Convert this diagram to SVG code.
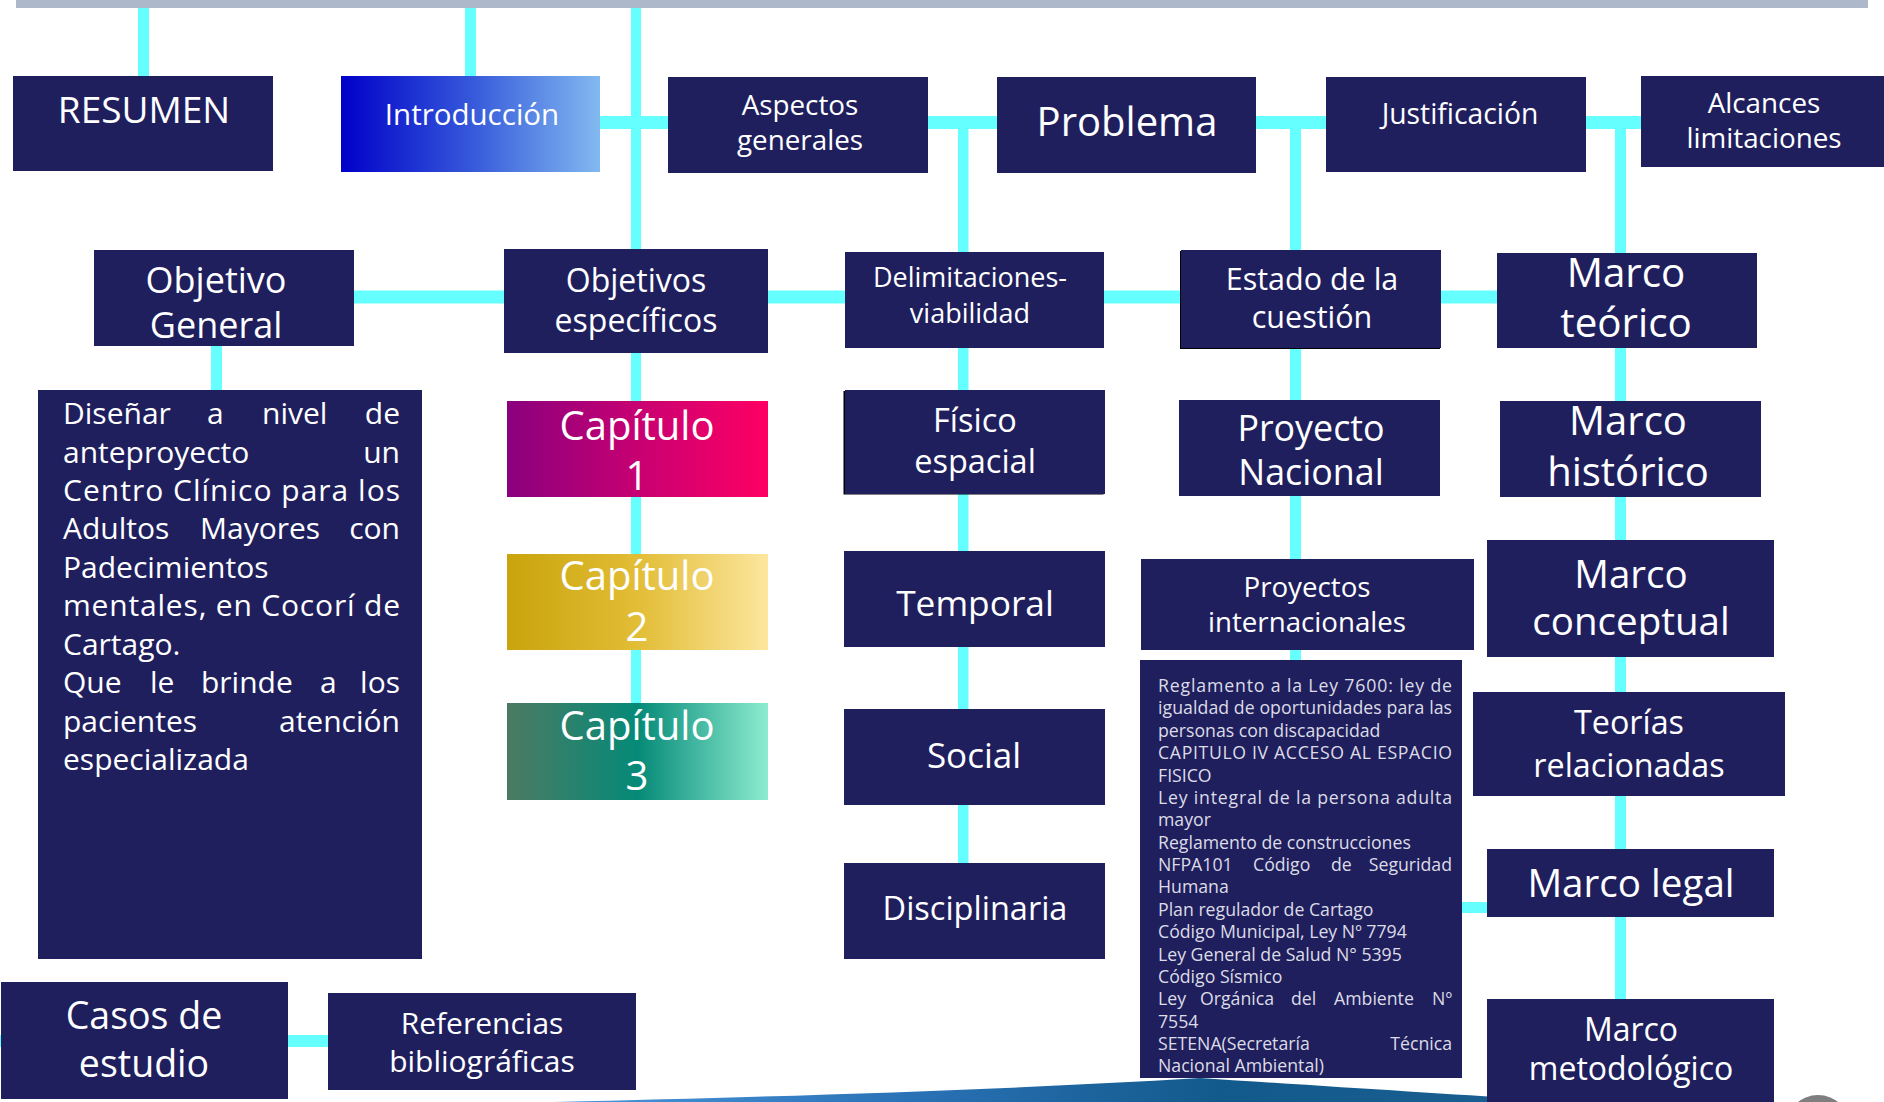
<svg xmlns="http://www.w3.org/2000/svg" width="1884" height="1102" viewBox="0 0 1884 1102">
<style>
.box{fill:#201f5e}
.con{fill:#66ffff}
.t{font-family:"Open Sans","Noto Sans",sans-serif;fill:#ffffff;text-anchor:middle}
.p{font-family:"Open Sans","Noto Sans",sans-serif;fill:#ffffff;font-size:30px}
.e{text-anchor:end}
.lg{font-family:"Open Sans","Noto Sans",sans-serif;fill:#dcdce6;font-size:17.7px}
</style>
<defs>
<linearGradient id="gIntro" x1="0" y1="0" x2="1" y2="0">
<stop offset="0" stop-color="#0000c8"/><stop offset="0.5" stop-color="#3558da"/><stop offset="1" stop-color="#82b9f0"/>
</linearGradient>
<linearGradient id="gC1" x1="0" y1="0" x2="1" y2="0">
<stop offset="0" stop-color="#8a007e"/><stop offset="0.5" stop-color="#c70072"/><stop offset="1" stop-color="#ff0064"/>
</linearGradient>
<linearGradient id="gC2" x1="0" y1="0" x2="1" y2="0">
<stop offset="0" stop-color="#c9a40c"/><stop offset="0.5" stop-color="#e2bd36"/><stop offset="1" stop-color="#fde69e"/>
</linearGradient>
<linearGradient id="gC3" x1="0" y1="0" x2="1" y2="0">
<stop offset="0" stop-color="#4c7a62"/><stop offset="0.5" stop-color="#058a78"/><stop offset="1" stop-color="#8decd0"/>
</linearGradient>
<linearGradient id="gSw" x1="0" y1="0" x2="1" y2="0">
<stop offset="0" stop-color="#4a96dc"/><stop offset="0.35" stop-color="#2a72b6"/><stop offset="0.65" stop-color="#135a8c"/><stop offset="1" stop-color="#1a5f92"/>
</linearGradient>
</defs>

<rect x="16" y="0" width="1852" height="8" fill="#adb9ca"/>
<path d="M555 1102 C800 1096 1000 1090 1200 1078 C1350 1088 1480 1096 1572 1102 Z" fill="url(#gSw)"/>
<circle cx="1818" cy="1127" r="32" fill="#7f7f7f"/>

<g id="connectors">
<rect class="con" x="138" y="8" width="11" height="68"/>
<rect class="con" x="465" y="8" width="11" height="68"/>
<rect class="con" x="631" y="8" width="10" height="695"/>
<rect class="con" x="958" y="123" width="10.5" height="740"/>
<rect class="con" x="1290" y="122" width="11" height="538"/>
<rect class="con" x="1615" y="121" width="11" height="878"/>
<rect class="con" x="211" y="346" width="11" height="44"/>
<rect class="con" x="600" y="116" width="1041" height="13"/>
<rect class="con" x="354" y="290.5" width="1143" height="13"/>
<rect class="con" x="1462" y="902" width="25" height="11"/>
<rect class="con" x="0" y="1035" width="328" height="12"/>
</g>

<g id="resumen"><rect class="box" x="13" y="76" width="260" height="95"/>
<text class="t" x="144" y="123" font-size="37">RESUMEN</text></g>

<g id="introduccion"><rect x="341" y="76" width="259" height="96" fill="url(#gIntro)"/>
<text class="t" x="472" y="125" font-size="29.5">Introducción</text></g>

<g id="aspectos"><rect class="box" x="668" y="77" width="260" height="96"/>
<text class="t" font-size="27.8"><tspan x="800" y="115">Aspectos</tspan><tspan x="800" y="150">generales</tspan></text></g>

<g id="problema"><rect class="box" x="997" y="77" width="259" height="96"/>
<text class="t" x="1127" y="136" font-size="40">Problema</text></g>

<g id="justificacion"><rect class="box" x="1326" y="77" width="260" height="95"/>
<text class="t" x="1460" y="124" font-size="28.3">Justificación</text></g>

<g id="alcances"><rect class="box" x="1641" y="76" width="243" height="91"/>
<text class="t" font-size="27.8"><tspan x="1764" y="113">Alcances</tspan><tspan x="1764" y="148">limitaciones</tspan></text></g>

<g id="objetivo-general"><rect class="box" x="94" y="250" width="260" height="96"/>
<text class="t" font-size="36"><tspan x="216" y="293">Objetivo</tspan><tspan x="216" y="338">General</tspan></text></g>

<g id="objetivos-especificos"><rect class="box" x="504" y="249" width="264" height="104"/>
<text class="t" font-size="32"><tspan x="636" y="292">Objetivos</tspan><tspan x="636" y="332">específicos</tspan></text></g>

<g id="delimitaciones"><rect class="box" x="845" y="252" width="259" height="96"/>
<text class="t" font-size="27"><tspan x="970" y="287">Delimitaciones-</tspan><tspan x="970" y="323">viabilidad</tspan></text></g>

<g id="estado"><rect x="1180" y="251" width="260" height="98" fill="#000"/><rect class="box" x="1181" y="250" width="260" height="98"/>
<text class="t" font-size="30.5"><tspan x="1312" y="290">Estado de la</tspan><tspan x="1312" y="328">cuestión</tspan></text></g>

<g id="marco-teorico"><rect class="box" x="1497" y="253" width="260" height="95"/>
<text class="t" font-size="40.3"><tspan x="1626" y="287">Marco</tspan><tspan x="1626" y="337">teórico</tspan></text></g>

<g id="objetivo-texto"><rect class="box" x="38" y="390" width="384" height="569"/>
<text class="p"><tspan x="63" y="424">Diseñar</tspan><tspan x="207" y="424">a</tspan><tspan x="262" y="424">nivel</tspan></text>
<text class="p e" x="400" y="424">de</text>
<text class="p" x="63" y="462.5">anteproyecto</text><text class="p e" x="400" y="462.5">un</text>
<text class="p" x="63" y="501" textLength="337" lengthAdjust="spacing">Centro Clínico para los</text>
<text class="p"><tspan x="63" y="539.4">Adultos</tspan><tspan x="200" y="539.4">Mayores</tspan></text>
<text class="p e" x="400" y="539.4">con</text>
<text class="p" x="63" y="577.8">Padecimientos</text>
<text class="p" x="63" y="616.3" textLength="337" lengthAdjust="spacing">mentales, en Cocorí de</text>
<text class="p" x="63" y="654.8">Cartago.</text>
<text class="p"><tspan x="63" y="693.2">Que</tspan><tspan x="150" y="693.2">le</tspan><tspan x="201" y="693.2">brinde</tspan><tspan x="320" y="693.2">a</tspan></text>
<text class="p e" x="400" y="693.2">los</text>
<text class="p" x="63" y="731.7">pacientes</text><text class="p e" x="400" y="731.7">atención</text>
<text class="p" x="63" y="770.1">especializada</text>
</g>

<g id="capitulo1"><rect x="507" y="401" width="261" height="96" fill="url(#gC1)"/>
<text class="t" font-size="40"><tspan x="637" y="440">Capítulo</tspan><tspan x="637" y="490">1</tspan></text></g>

<g id="capitulo2"><rect x="507" y="554" width="261" height="96" fill="url(#gC2)"/>
<text class="t" font-size="40"><tspan x="637" y="590">Capítulo</tspan><tspan x="637" y="641">2</tspan></text></g>

<g id="capitulo3"><rect x="507" y="703" width="261" height="97" fill="url(#gC3)"/>
<text class="t" font-size="40"><tspan x="637" y="740">Capítulo</tspan><tspan x="637" y="790">3</tspan></text></g>

<g id="fisico"><rect x="843.5" y="391" width="260" height="103.5" fill="#000"/><rect class="box" x="845" y="390" width="260" height="104"/>
<text class="t" font-size="32.5"><tspan x="975" y="432">Físico</tspan><tspan x="975" y="473">espacial</tspan></text></g>

<g id="temporal"><rect class="box" x="844" y="551" width="261" height="96"/>
<text class="t" x="975" y="616" font-size="35.3">Temporal</text></g>

<g id="social"><rect class="box" x="844" y="709" width="261" height="96"/>
<text class="t" x="974" y="768" font-size="35">Social</text></g>

<g id="disciplinaria"><rect class="box" x="844" y="863" width="261" height="96"/>
<text class="t" x="975" y="920" font-size="32.5">Disciplinaria</text></g>

<g id="proyecto-nacional"><rect class="box" x="1179" y="400" width="261" height="96"/>
<text class="t" font-size="35.8"><tspan x="1311" y="441">Proyecto</tspan><tspan x="1311" y="485">Nacional</tspan></text></g>

<g id="proyectos-internacionales"><rect class="box" x="1141" y="559" width="333" height="91"/>
<text class="t" font-size="27.7"><tspan x="1307" y="597">Proyectos</tspan><tspan x="1307" y="632">internacionales</tspan></text></g>

<g id="leyes"><rect class="box" x="1140" y="660" width="322" height="418"/>
<text class="lg" x="1158" y="692" textLength="294" lengthAdjust="spacing">Reglamento a la Ley 7600: ley de</text>
<text class="lg" x="1158" y="714.4" textLength="294" lengthAdjust="spacing">igualdad de oportunidades para las</text>
<text class="lg" x="1158" y="736.7">personas con discapacidad</text>
<text class="lg" x="1158" y="759.1" textLength="294" lengthAdjust="spacing">CAPITULO IV ACCESO AL ESPACIO</text>
<text class="lg" x="1158" y="781.5">FISICO</text>
<text class="lg" x="1158" y="803.9" textLength="294" lengthAdjust="spacing">Ley integral de la persona adulta</text>
<text class="lg" x="1158" y="826.2">mayor</text>
<text class="lg" x="1158" y="848.6">Reglamento de construcciones</text>
<text class="lg"><tspan x="1158" y="871">NFPA101</tspan><tspan x="1253" y="871">Código</tspan><tspan x="1331" y="871">de</tspan></text>
<text class="lg e" x="1452" y="871">Seguridad</text>
<text class="lg" x="1158" y="893.3">Humana</text>
<text class="lg" x="1158" y="915.7">Plan regulador de Cartago</text>
<text class="lg" x="1158" y="938.1">Código Municipal, Ley Nº 7794</text>
<text class="lg" x="1158" y="960.5">Ley General de Salud N° 5395</text>
<text class="lg" x="1158" y="982.8">Código Sísmico</text>
<text class="lg"><tspan x="1158" y="1005.2">Ley</tspan><tspan x="1200" y="1005.2">Orgánica</tspan><tspan x="1291" y="1005.2">del</tspan><tspan x="1334" y="1005.2">Ambiente</tspan></text>
<text class="lg e" x="1452" y="1005.2">Nº</text>
<text class="lg" x="1158" y="1027.6">7554</text>
<text class="lg" x="1158" y="1050">SETENA(Secretaría</text><text class="lg e" x="1452" y="1050">Técnica</text>
<text class="lg" x="1158" y="1072.3">Nacional Ambiental)</text>
</g>

<g id="marco-historico"><rect class="box" x="1500" y="401" width="261" height="96"/>
<text class="t" font-size="40"><tspan x="1628" y="435">Marco</tspan><tspan x="1628" y="486">histórico</tspan></text></g>

<g id="marco-conceptual"><rect class="box" x="1487" y="540" width="287" height="117"/>
<text class="t" font-size="38.5"><tspan x="1631" y="588">Marco</tspan><tspan x="1631" y="635">conceptual</tspan></text></g>

<g id="teorias"><rect class="box" x="1473" y="692" width="312" height="104"/>
<text class="t" font-size="32.3"><tspan x="1629" y="734">Teorías</tspan><tspan x="1629" y="777">relacionadas</tspan></text></g>

<g id="marco-legal"><rect class="box" x="1487" y="849" width="287" height="68"/>
<text class="t" x="1631" y="897" font-size="38.6">Marco legal</text></g>

<g id="marco-metodologico"><rect class="box" x="1487" y="999" width="287" height="103"/>
<text class="t" font-size="32"><tspan x="1631" y="1041">Marco</tspan><tspan x="1631" y="1080">metodológico</tspan></text></g>

<g id="casos"><rect class="box" x="1" y="982" width="287" height="117"/>
<text class="t" font-size="37.5"><tspan x="144" y="1029">Casos de</tspan><tspan x="144" y="1077">estudio</tspan></text></g>

<g id="referencias"><rect class="box" x="328" y="993" width="308" height="97"/>
<text class="t" font-size="30"><tspan x="482" y="1034">Referencias</tspan><tspan x="482" y="1072">bibliográficas</tspan></text></g>
</svg>
